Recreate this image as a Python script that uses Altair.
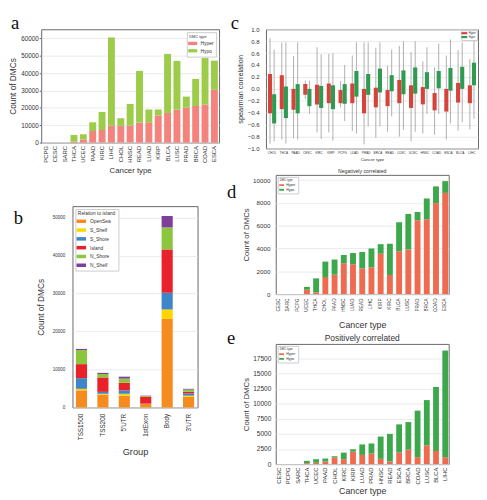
import altair as alt
import pandas as pd

FONT = "Liberation Sans"
SERIF = "Liberation Serif"
BAR_SYM = "M-1.5,-0.55H1.5V0.55H-1.5Z"

# ---------------- panel a data ----------------
a_types = ["PCPG", "CESC", "SARC", "THCA", "UCEC", "PAAD", "KIRC", "LIHC", "CHOL", "HNSC",
           "READ", "LUAD", "KIRP", "BLCA", "LUSC", "PRAD", "BRCA", "COAD", "ESCA"]
a_hyper = [0, 0, 0, 500, 1800, 6700, 7200, 9700, 9700, 9900,
           11500, 11700, 15600, 17100, 19000, 20100, 21100, 21900, 30400]
a_hypo = [0, 0, 0, 3900, 3000, 5000, 10400, 50900, 4300, 12400,
          29800, 7400, 3500, 34000, 28100, 6400, 15600, 26800, 16800]

# ---------------- panel b data ----------------
b_groups = ["TSS1500", "TSS200", "5'UTR", "1stExon", "Body", "3'UTR"]
b_relations = ["OpenSea", "S_Shelf", "S_Shore", "Island", "N_Shore", "N_Shelf"]
b_colors = ["#f68b1f", "#ffd500", "#3f86c8", "#e8212b", "#8cc63e", "#7d3f98"]
b_opensea = [4500, 3400, 3100, 900, 23300, 2800]
b_s_shelf = [400, 200, 500, 50, 2500, 300]
b_s_shore = [2800, 500, 900, 50, 4400, 600]
b_island = [3700, 3800, 2000, 1800, 11400, 400]
b_n_shore = [3700, 900, 1100, 200, 5800, 600]
b_n_shelf = [300, 300, 500, 100, 3000, 200]

# ---------------- panel c data ----------------
c_types = ["CHOL", "THCA", "PAAD", "CESC", "KIRC", "KIRP", "PCPG", "LUAD", "PRAD",
           "BRCA", "READ", "LUSC", "UCEC", "HNSC", "COAD", "ESCA", "BLCA", "LIHC"]
c_hyper_q3 = [0.25, 0.23, 0.00, 0.08, 0.07, 0.09, -0.02, 0.09, 0.00, 0.02, -0.02, 0.15, 0.06, 0.03, -0.07, 0.00, 0.10, 0.06]
c_hyper_q1 = [-0.41, -0.34, -0.35, -0.10, -0.26, -0.24, -0.24, -0.24, -0.41, -0.31, -0.29, -0.24, -0.32, -0.26, -0.36, -0.38, -0.23, -0.24]
c_hyper_hi = [0.85, 0.78, 0.55, 0.14, 0.70, 0.59, 0.13, 0.56, 0.78, 0.69, 0.39, 0.72, 0.62, 0.46, 0.36, 0.56, 0.65, 0.50]
c_hyper_lo = [-0.92, -0.85, -0.83, -0.17, -0.73, -0.73, -0.31, -0.71, -0.93, -0.82, -0.72, -0.80, -0.88, -0.75, -0.77, -0.85, -0.70, -0.68]
c_hypo_q3 = [-0.09, 0.04, 0.08, 0.00, 0.05, 0.06, 0.08, 0.30, 0.25, 0.34, 0.23, 0.31, 0.36, 0.28, 0.30, 0.35, 0.37, 0.44]
c_hypo_q1 = [-0.58, -0.49, -0.41, -0.29, -0.32, -0.34, -0.25, -0.13, -0.10, -0.06, -0.04, -0.09, -0.08, 0.00, 0.01, -0.03, 0.00, 0.06]
c_hypo_hi = [0.66, 0.78, 0.78, 0.14, 0.58, 0.60, 0.40, 0.78, 0.78, 0.78, 0.66, 0.80, 0.80, 0.70, 0.76, 0.83, 0.78, 0.82]
c_hypo_lo = [-0.88, -0.92, -0.85, -0.42, -0.84, -0.87, -0.54, -0.75, -0.63, -0.63, -0.46, -0.69, -0.72, -0.42, -0.42, -0.58, -0.56, -0.50]
c_ticks = [-1.0, -0.8, -0.6, -0.4, -0.2, 0.0, 0.2, 0.4, 0.6, 0.8, 1.0]

# ---------------- panel d data ----------------
d_types = ["CESC", "SARC", "PCPG", "UCEC", "THCA", "CHOL", "PAAD", "HNSC", "LUAD", "READ",
           "LIHC", "KIRP", "KIRC", "BLCA", "LUSC", "PRAD", "BRCA", "COAD", "ESCA"]
d_hyper = [0, 0, 0, 380, 150, 1500, 1700, 2710, 2620, 2250, 2360, 3540, 1670, 3750, 3920, 6480, 6570, 7980, 8880]
d_hypo = [0, 0, 0, 250, 1230, 1350, 1330, 720, 980, 1440, 1640, 840, 2740, 2560, 3110, 720, 1820, 1470, 1030]

# ---------------- panel e data ----------------
e_types = ["CESC", "PCPG", "SARC", "THCA", "UCEC", "PAAD", "CHOL", "KIRC", "KIRP", "LUAD",
           "PRAD", "HNSC", "READ", "ESCA", "BRCA", "COAD", "LUSC", "BLCA", "LIHC"]
e_hyper = [0, 0, 0, 160, 220, 430, 1080, 810, 2060, 1520, 1730, 870, 430, 1900, 2380, 1140, 3090, 2170, 1140]
e_hypo = [0, 0, 0, 380, 590, 490, 220, 1090, 380, 1730, 1680, 3680, 4560, 4660, 4560, 7690, 7480, 10570, 17610]


def letter(ch, dx, dy):
    return alt.Chart(pd.DataFrame({"t": [ch]})).mark_text(
        font=SERIF, fontSize=19, align="left", baseline="alphabetic", color="#111"
    ).encode(text="t:N", x=alt.value(dx), y=alt.value(dy))


def spacer(*extra):
    base = alt.Chart(pd.DataFrame({"t": [0]})).mark_point(size=0, opacity=0).encode(
        x=alt.value(0), y=alt.value(0))
    return alt.layer(base, *extra).properties(
        width=1, height=1, view=alt.ViewBackground(stroke="transparent"))


def small_legend(orient, title, tsize, lsize, ssize, pad, rowpad, offset, loff):
    return alt.Legend(orient=orient, title=title, titleFontSize=tsize, labelFontSize=lsize,
                      symbolType=BAR_SYM, symbolSize=ssize, symbolStrokeWidth=0,
                      fillColor="white", strokeColor="#cccccc", padding=pad, offset=offset,
                      rowPadding=rowpad, titlePadding=1.5, labelOffset=loff,
                      titleFont=FONT, labelFont=FONT, titleFontWeight="normal",
                      titleColor="#333", labelColor="#333")


def dmc_frame(types, hyper, hypo, key):
    n = len(types)
    return pd.DataFrame({
        key + "type": types + types,
        key + "dmc": ["Hyper"] * n + ["Hypo"] * n,
        key + "count": hyper + hypo,
        key + "ord": [0] * n + [1] * n,
    })


IND = dict(color="independent", x="independent", y="independent")

# ---------------- panel a ----------------
a_df = dmc_frame(a_types, a_hyper, a_hypo, "a_")
a_bars = alt.Chart(a_df).mark_bar().encode(
    x=alt.X("a_type:N", sort=a_types,
            scale=alt.Scale(paddingInner=0.26, paddingOuter=0.13),
            axis=alt.Axis(title="Cancer type", labelAngle=270, labelFontSize=6,
                          titleFontSize=8, titlePadding=4, ticks=False, labelPadding=3)),
    y=alt.Y("a_count:Q", stack="zero",
            scale=alt.Scale(domain=[0, 65290], nice=False),
            axis=alt.Axis(title="Count of DMCs", values=[0, 10000, 20000, 30000, 40000, 50000, 60000],
                          labelFontSize=6.5, titleFontSize=8.5, titlePadding=3, tickSize=2,
                          labelPadding=1, format="d", labelOverlap=False)),
    color=alt.Color("a_dmc:N", scale=alt.Scale(domain=["Hyper", "Hypo"], range=["#f4837d", "#9dcb4a"]),
                    legend=small_legend("top-right", "DMC type", 4, 5, 38, 2.5, 0.5, 3, 4.5)),
    order=alt.Order("a_ord:Q"),
)
chart_a = alt.layer(a_bars, letter("a", -31, 0)).properties(width=182, height=116)

# ---------------- panel b ----------------
b_series = [b_opensea, b_s_shelf, b_s_shore, b_island, b_n_shore, b_n_shelf]
b_rows = []
for ri, (rel, vals) in enumerate(zip(b_relations, b_series)):
    for g, v in zip(b_groups, vals):
        b_rows.append({"b_group": g, "b_rel": rel, "b_count": v, "b_ord": ri})
b_df = pd.DataFrame(b_rows)
b_bars = alt.Chart(b_df).mark_bar().encode(
    x=alt.X("b_group:N", sort=b_groups,
            scale=alt.Scale(paddingInner=0.48, paddingOuter=0.16),
            axis=alt.Axis(title="Group", labelAngle=270, labelFontSize=6.5, titleFontSize=9.5,
                          titlePadding=7, ticks=False, labelPadding=6)),
    y=alt.Y("b_count:Q", stack="zero", scale=alt.Scale(domain=[0, 53000], nice=False),
            axis=alt.Axis(title="Count of DMCs", values=[0, 10000, 20000, 30000, 40000, 50000],
                          labelFontSize=4.6, titleFontSize=8.5, titlePadding=7, tickSize=0,
                          labelPadding=8, format="d", labelOverlap=False)),
    color=alt.Color("b_rel:N", scale=alt.Scale(domain=b_relations, range=b_colors),
                    legend=small_legend("top-left", "Relation to island", 5, 5, 42, 2.5, 2, 3, 5.5)),
    order=alt.Order("b_ord:Q"),
)
chart_b = alt.layer(b_bars, letter("b", -60, 18)).properties(width=128, height=206)

# ---------------- panel c ----------------
n_c = len(c_types)
c_df = pd.DataFrame({
    "c_type": c_types + c_types,
    "c_dmc": ["Hyper"] * n_c + ["Hypo"] * n_c,
    "c_q1": c_hyper_q1 + c_hypo_q1,
    "c_q3": c_hyper_q3 + c_hypo_q3,
    "c_lo": c_hyper_lo + c_hypo_lo,
    "c_hi": c_hyper_hi + c_hypo_hi,
})
c_x = alt.X("c_type:N", sort=c_types, scale=alt.Scale(paddingInner=0.3, paddingOuter=0.17),
            axis=alt.Axis(title="Cancer type", labelAngle=0, labelFontSize=3.2, titleFontSize=4.5,
                          ticks=False, labelPadding=2, titlePadding=3, labelOverlap=False))
c_xo = alt.XOffset("c_dmc:N", sort=["Hyper", "Hypo"])
c_y_scale = alt.Scale(domain=[-1.0, 1.0], nice=False)
c_y_axis = alt.Axis(title="spearman correlation", values=c_ticks,
                    format=".1f", labelFontSize=6.2, titleFontSize=7.5, tickSize=0, labelPadding=7,
                    titlePadding=3, labelOverlap=False, labelFlush=False)
c_whisk = alt.Chart(c_df).mark_rule(color="#9a9a9a", strokeWidth=0.8).encode(
    x=c_x, xOffset=c_xo,
    y=alt.Y("c_lo:Q", scale=c_y_scale, axis=c_y_axis),
    y2="c_hi:Q",
)
c_box = alt.Chart(c_df).mark_bar().encode(
    x=c_x, xOffset=c_xo,
    y=alt.Y("c_q1:Q", scale=c_y_scale, axis=c_y_axis),
    y2="c_q3:Q",
    color=alt.Color("c_dmc:N", scale=alt.Scale(domain=["Hyper", "Hypo"], range=["#d5443a", "#2f9a52"]),
                    legend=small_legend("top-right", None, 3, 2.8, 16, 1, 0, 1, 2.5)),
)
chart_c = alt.layer(c_whisk, c_box, letter("c", -36, 0)).properties(width=217, height=122)

# ---------------- panel d ----------------
d_df = dmc_frame(d_types, d_hyper, d_hypo, "d_")
d_bars = alt.Chart(d_df).mark_bar().encode(
    x=alt.X("d_type:N", sort=d_types, scale=alt.Scale(paddingInner=0.36, paddingOuter=0.06),
            axis=alt.Axis(title="Cancer type", labelAngle=270, labelFontSize=4.8, titleFontSize=9,
                          ticks=False, labelPadding=4, titlePadding=9, labelOverlap=False)),
    y=alt.Y("d_count:Q", stack="zero", scale=alt.Scale(domain=[0, 10460], nice=False),
            axis=alt.Axis(title="Count of DMCs", values=[0, 2000, 4000, 6000, 8000, 10000],
                          labelFontSize=6.4, titleFontSize=8, tickSize=0, labelPadding=6,
                          titlePadding=2, format="d", labelOverlap=False)),
    color=alt.Color("d_dmc:N", scale=alt.Scale(domain=["Hyper", "Hypo"], range=["#ef6b4f", "#3ca84b"]),
                    legend=small_legend("top-left", "DMC type", 3, 3.5, 11, 2, 0.8, 2, 2.8)),
    order=alt.Order("d_ord:Q"),
)
chart_d = alt.layer(d_bars).properties(
    width=177, height=122,
    title=alt.TitleParams("Negatively correlated", fontSize=5.3, font=FONT, fontWeight="normal",
                          color="#333", offset=1))

# ---------------- panel e ----------------
e_df = dmc_frame(e_types, e_hyper, e_hypo, "e_")
e_bars = alt.Chart(e_df).mark_bar().encode(
    x=alt.X("e_type:N", sort=e_types, scale=alt.Scale(paddingInner=0.37, paddingOuter=0.06),
            axis=alt.Axis(title="Cancer type", labelAngle=270, labelFontSize=6, titleFontSize=9,
                          ticks=False, labelPadding=3, titlePadding=2.5, labelOverlap=False)),
    y=alt.Y("e_count:Q", stack="zero", scale=alt.Scale(domain=[0, 19840], nice=False),
            axis=alt.Axis(title="Count of DMCs", values=[0, 2500, 5000, 7500, 10000, 12500, 15000, 17500],
                          labelFontSize=6.7, titleFontSize=8, tickSize=0, labelPadding=5,
                          titlePadding=2, format="d", labelOverlap=False)),
    color=alt.Color("e_dmc:N", scale=alt.Scale(domain=["Hyper", "Hypo"], range=["#ef6b4f", "#3ca84b"]),
                    legend=small_legend("top-left", "DMC type", 3, 3.5, 11, 2, 0.8, 2, 2.8)),
    order=alt.Order("e_ord:Q"),
)
chart_e = alt.layer(e_bars).properties(
    width=177, height=123,
    title=alt.TitleParams("Positively correlated", fontSize=8.6, font=FONT, fontWeight="normal",
                          color="#333", offset=1.5))

# ---------------- layout ----------------
left = alt.vconcat(
    chart_a,
    alt.hconcat(spacer(), chart_b, spacing=-31).resolve_scale(**IND).resolve_legend(color="independent"),
    spacing=31).resolve_scale(**IND).resolve_legend(color="independent")

right = alt.vconcat(
    chart_c,
    alt.hconcat(spacer(letter("d", -40, 24), letter("e", -40, 173)),
                alt.vconcat(chart_d, chart_e, spacing=3).resolve_scale(**IND).resolve_legend(color="independent"),
                spacing=-27).resolve_scale(**IND).resolve_legend(color="independent"),
    spacing=6).resolve_scale(**IND).resolve_legend(color="independent")

chart = alt.hconcat(left, right, spacing=6).resolve_scale(**IND).resolve_legend(
    color="independent"
).properties(
    padding=0, background="white"
).configure_view(
    stroke="#666666", strokeWidth=1
).configure_axis(
    labelFont=FONT, titleFont=FONT, titleFontWeight="normal",
    labelColor="#333333", titleColor="#333333", domain=False,
    tickColor="#666666", gridColor="#e6e6e6", gridWidth=0.8
).configure_axisX(grid=False)

chart.save("out.html", embed_options={"renderer": "svg", "actions": False})
